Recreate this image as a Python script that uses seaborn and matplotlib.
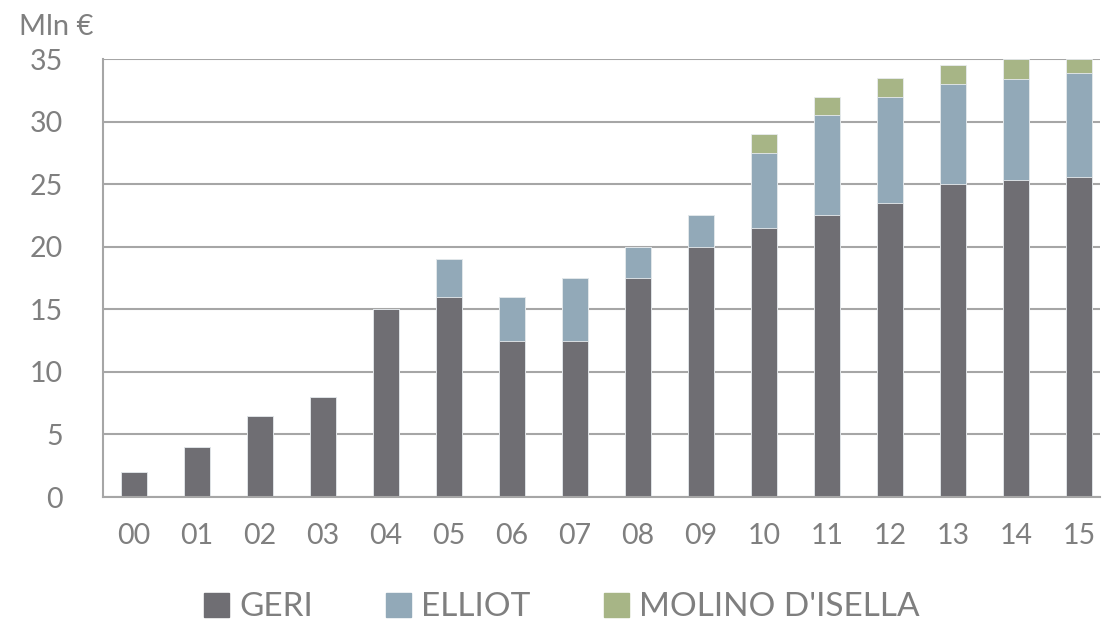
import pandas as pd
import matplotlib.pyplot as plt
import seaborn as sns
from matplotlib.patches import Patch

years = ["00", "01", "02", "03", "04", "05", "06", "07",
         "08", "09", "10", "11", "12", "13", "14", "15"]
geri = [2.0, 4.0, 6.5, 8.0, 15.0, 16.0, 12.5, 12.5,
        17.5, 20.0, 21.5, 22.5, 23.5, 25.0, 25.3, 25.6]
elliot = [0, 0, 0, 0, 0, 3.0, 3.5, 5.0,
          2.5, 2.5, 6.0, 8.0, 8.5, 8.0, 8.1, 8.3]
molino = [0, 0, 0, 0, 0, 0, 0, 0,
          0, 0, 1.5, 1.5, 1.5, 1.5, 1.6, 1.1]

c_geri = "#6f6e73"
c_elliot = "#92a9b8"
c_molino = "#a7b586"
grey = "#7f7f7f"

df = pd.DataFrame({"anno": years, "GERI": geri, "ELLIOT": elliot, "MOLINO": molino})
df["top_elliot"] = df["GERI"] + df["ELLIOT"]
df["top_molino"] = df["top_elliot"] + df["MOLINO"]

sns.set_style("white")
plt.rcParams["font.family"] = ["Lato", "DejaVu Sans"]

fig = plt.figure(figsize=(11.02, 6.25), dpi=100)
ax = fig.add_axes([0.0935, 0.2048, 0.9045, 0.7008])

# stacked bars: draw cumulative tops first, then lower layers over them
for col, color in [("top_molino", c_molino), ("top_elliot", c_elliot), ("GERI", c_geri)]:
    sns.barplot(data=df, x="anno", y=col, color=color, width=0.41,
                saturation=1, edgecolor="#e8ecef", linewidth=0.6, ax=ax)

ax.set_ylim(0, 35)
ax.set_xlim(-0.49, 15.33)
ax.set_yticks(range(0, 36, 5))
ax.yaxis.grid(True, color="#a6a6a6", linewidth=1.5)
ax.set_axisbelow(True)
ax.set_xlabel("")
ax.set_ylabel("")

for s in ["top", "right"]:
    ax.spines[s].set_visible(False)
for s in ["left", "bottom"]:
    ax.spines[s].set_color("#a6a6a6")
    ax.spines[s].set_linewidth(1.5)

ax.tick_params(axis="both", length=0, labelsize=20.5, labelcolor=grey)
ax.tick_params(axis="y", pad=29)
ax.tick_params(axis="x", pad=19)

fig.text(0.017, 0.957, "Mln €", fontsize=21, color=grey, ha="left", va="center")

handles = [Patch(color=c_geri, label="GERI"),
           Patch(color=c_elliot, label="ELLIOT"),
           Patch(color=c_molino, label="MOLINO D'ISELLA")]
fig.legend(handles=handles, loc="center", bbox_to_anchor=(0.51, 0.028), ncol=3,
           frameon=False, fontsize=24, labelcolor=grey, handlelength=0.75,
           handleheight=0.75, handletextpad=0.3, columnspacing=2.2)

fig.savefig("out.png", dpi=100)
